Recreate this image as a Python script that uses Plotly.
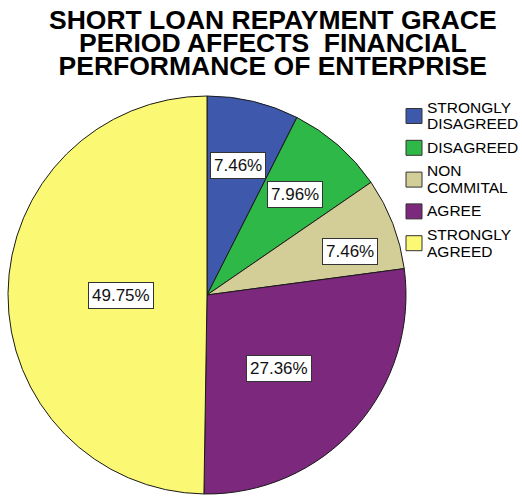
import math
import plotly.graph_objects as go

# Survey responses (percent of respondents)
categories = ["STRONGLY\nDISAGREED", "DISAGREED", "NON\nCOMMITAL", "AGREE", "STRONGLY\nAGREED"]
percentages = [7.46, 7.96, 7.46, 27.36, 49.75]
colors = ["#3E58AC", "#2EB848", "#D3CE97", "#7C287D", "#FBF873"]
title_lines = [
    "SHORT LOAN REPAYMENT GRACE",
    "PERIOD AFFECTS  FINANCIAL",
    "PERFORMANCE OF ENTERPRISE",
]

W, H = 522, 497
FONT = "Arial, Liberation Sans, sans-serif"

# pie geometry in pixels
cx, cy, r = 207, 295, 199
# where each value box sits: fraction of radius and small angular nudge (deg)
label_radius = [0.67, 0.67, 0.75, 0.52, 0.43]
label_nudge = [0, 0, 4, 4, -1]


def px(x):
    return x / W


def py(y):
    return 1 - y / H


fig = go.Figure(
    go.Pie(
        labels=[c.replace("\n", " ") for c in categories],
        values=percentages,
        sort=False,
        direction="clockwise",
        rotation=0,
        marker=dict(colors=colors, line=dict(color="#1a1a1a", width=1)),
        textinfo="none",
        hoverinfo="label+percent",
        showlegend=False,
        domain=dict(x=[px(cx - r), px(cx + r)], y=[py(cy + r), py(cy - r)]),
    )
)

annotations = []
shapes = []

# value boxes at each slice's mid-angle
total = sum(percentages)
cum = 0.0
for i, v in enumerate(percentages):
    mid = (cum + v / 2) / total * 360 + label_nudge[i]
    cum += v
    rr = r * label_radius[i]
    lx = cx + rr * math.sin(math.radians(mid))
    ly = cy - rr * math.cos(math.radians(mid))
    annotations.append(dict(
        x=px(lx), y=py(ly), xref="paper", yref="paper",
        text=f"{v:.2f}%", showarrow=False,
        font=dict(family=FONT, size=17, color="#111"),
        bgcolor="white", bordercolor="#333", borderwidth=1, borderpad=3,
        xanchor="center", yanchor="middle",
    ))

# title: line pitch follows the small base size, glyphs use the larger span size
title_pitch = 23
base_size = title_pitch / 1.3
title_text = "<br>".join(
    f'<span style="font-size:26.5px"><b>{line}</b></span>' for line in title_lines
)
annotations.append(dict(
    x=px(273), y=py(43), xref="paper", yref="paper",
    text=title_text, showarrow=False, align="center",
    font=dict(family=FONT, size=base_size, color="black"),
    xanchor="center", yanchor="middle",
))

# legend: swatch plus stacked label lines
leg_top, leg_step = 116, 31.8
line_gap = 16.8
for i, (name, col) in enumerate(zip(categories, colors)):
    yc = leg_top + i * leg_step
    shapes.append(dict(
        type="rect", xref="paper", yref="paper",
        x0=px(406), x1=px(422), y0=py(yc + 7.5), y1=py(yc - 7.5),
        fillcolor=col, line=dict(color="#333", width=1),
    ))
    parts = name.split("\n")
    n = len(parts)
    for j, part in enumerate(parts):
        ty = yc + (j - (n - 1) / 2) * line_gap
        annotations.append(dict(
            x=px(425), y=py(ty), xref="paper", yref="paper",
            text=part, showarrow=False,
            font=dict(family=FONT, size=15.5, color="black"),
            height=line_gap - 1,
            xanchor="left", yanchor="middle",
        ))

fig.update_layout(
    width=W, height=H,
    margin=dict(l=0, r=0, t=0, b=0),
    paper_bgcolor="white", plot_bgcolor="white",
    annotations=annotations, shapes=shapes,
)

fig.write_html("out.html")
